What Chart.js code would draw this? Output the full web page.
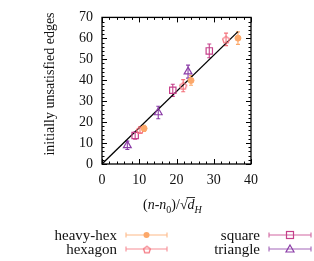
<!DOCTYPE html>
<html>
<head>
<meta charset="utf-8">
<script src="https://cdn.jsdelivr.net/npm/chart.js@4/dist/chart.umd.min.js"></script>
<style>
  html, body { margin: 0; padding: 0; background: #fff; }
  #wrap { width: 314px; height: 261px; position: relative; }
</style>
</head>
<body>
<div id="wrap"><canvas id="grafico"></canvas></div>
<script>
// data
const heavyHexX = [11.3, 23.9, 36.5];
const heavyHexY = [17.0, 39.9, 60.1];
const heavyHexErr = [1.5, 2.3, 3.0];

const hexagonX = [10.2, 21.8, 33.3];
const hexagonY = [16.3, 37.4, 59.5];
const hexagonErr = [1.5, 2.9, 3.0];

const squareX = [8.9, 19.0, 28.8];
const squareY = [13.6, 35.2, 54.0];
const squareErr = [1.7, 2.9, 3.3];

const triangleX = [6.8, 15.1, 23.1];
const triangleY = [8.9, 24.6, 44.1];
const triangleErr = [2.0, 3.0, 3.1];

const fitX = [0, 36.5];
const fitY = [0, 63.2];

const xTicks = [0, 10, 20, 30, 40];
const yTicks = [0, 10, 20, 30, 40, 50, 60, 70];
const etiquetas = ['heavy-hex', 'hexagon', 'square', 'triangle'];

const colores = ['#fca86a', '#f4707a', '#c5408a', '#8c3ea8'];
const FUENTE = '"Liberation Serif", "DejaVu Serif", serif';

function puntos(xs, ys) {
  return xs.map((x, i) => ({ x: x, y: ys[i] }));
}

// pentagon marker for the hexagon series
function pentagono(color, r) {
  const c = document.createElement('canvas');
  const s = Math.ceil(r * 2 + 4);
  c.width = s; c.height = s;
  const g = c.getContext('2d');
  g.strokeStyle = color; g.lineWidth = 1.2;
  g.beginPath();
  for (let k = 0; k < 5; k++) {
    const a = -Math.PI / 2 + k * 2 * Math.PI / 5;
    const px = s / 2 + r * Math.cos(a), py = s / 2 + 0.5 + r * Math.sin(a);
    if (k === 0) g.moveTo(px, py); else g.lineTo(px, py);
  }
  g.closePath(); g.stroke();
  return c;
}

function marca(ctx, tipo, x, y, color) {
  ctx.save();
  ctx.strokeStyle = color; ctx.fillStyle = color; ctx.lineWidth = 1.2;
  if (tipo === 0) {
    ctx.beginPath(); ctx.arc(x, y, 3, 0, Math.PI * 2); ctx.fill();
  } else if (tipo === 1) {
    ctx.drawImage(pentagono(color, 3.6), x - 5.6, y - 5.6);
  } else if (tipo === 2) {
    ctx.strokeRect(x - 3.5, y - 3.5, 7, 7);
  } else {
    ctx.beginPath(); ctx.moveTo(x, y - 4); ctx.lineTo(x + 4, y + 3); ctx.lineTo(x - 4, y + 3); ctx.closePath(); ctx.stroke();
  }
  ctx.restore();
}

const errores = [heavyHexErr, hexagonErr, squareErr, triangleErr];

const barrasError = {
  id: 'barrasError',
  beforeDatasetsDraw(chart) {
    const ctx = chart.ctx, ys = chart.scales.y;
    errores.forEach((errs, i) => {
      const meta = chart.getDatasetMeta(i);
      const datos = chart.data.datasets[i].data;
      ctx.save();
      ctx.strokeStyle = colores[i]; ctx.lineWidth = 1.1;
      meta.data.forEach((p, j) => {
        const y1 = ys.getPixelForValue(datos[j].y - errs[j]);
        const y2 = ys.getPixelForValue(datos[j].y + errs[j]);
        ctx.beginPath();
        ctx.moveTo(p.x, y1); ctx.lineTo(p.x, y2);
        ctx.moveTo(p.x - 2, y1); ctx.lineTo(p.x + 2, y1);
        ctx.moveTo(p.x - 2, y2); ctx.lineTo(p.x + 2, y2);
        ctx.stroke();
      });
      ctx.restore();
    });
  }
};

const marco = {
  id: 'marco',
  afterDraw(chart) {
    const ctx = chart.ctx, a = chart.chartArea;
    const xs = chart.scales.x, ys = chart.scales.y;
    ctx.save();
    ctx.strokeStyle = '#000'; ctx.lineWidth = 1;
    ctx.beginPath();
    for (let v = 0; v <= 40; v += 2) {
      const px = Math.round(xs.getPixelForValue(v)) + 0.5;
      const len = v % 10 === 0 ? 5 : 2.5;
      ctx.moveTo(px, a.bottom); ctx.lineTo(px, a.bottom - len);
      ctx.moveTo(px, a.top); ctx.lineTo(px, a.top + len);
    }
    for (let v = 0; v <= 70; v += 2) {
      const py = Math.round(ys.getPixelForValue(v)) + 0.5;
      const len = v % 10 === 0 ? 5 : 2.5;
      ctx.moveTo(a.left, py); ctx.lineTo(a.left + len, py);
      ctx.moveTo(a.right, py); ctx.lineTo(a.right - len, py);
    }
    ctx.stroke();
    ctx.lineWidth = 1.3;
    ctx.strokeRect(a.left, a.top, a.right - a.left, a.bottom - a.top);

    // y title
    ctx.fillStyle = '#111';
    ctx.font = '14px ' + FUENTE;
    ctx.textAlign = 'center'; ctx.textBaseline = 'middle';
    ctx.save();
    ctx.translate(50, 84); ctx.rotate(-Math.PI / 2);
    ctx.fillText('initially unsatisfied edges', 0, 0);
    ctx.restore();

    // x title: (n-n0)/sqrt(d)_H
    ctx.textAlign = 'left'; ctx.textBaseline = 'alphabetic';
    const partes = [
      ['(', 'n'], ['n', 'i'], ['-', 'n'], ['n', 'i'], ['0', 's'], [')/', 'n'], ['\u221A', 'n'], ['d', 'i'], ['H', 'si']
    ];
    let x = 143; const base = 209;
    partes.forEach(([t, f]) => {
      let fuente = '14px ' + FUENTE, dy = 0;
      if (f === 'i') fuente = 'italic 14px ' + FUENTE;
      if (f === 's') { fuente = '10px ' + FUENTE; dy = 4; }
      if (f === 'si') { fuente = 'italic 10px ' + FUENTE; dy = 4; }
      ctx.font = fuente;
      const w = ctx.measureText(t).width;
      if (t === 'd') {
        ctx.beginPath(); ctx.lineWidth = 0.8;
        ctx.moveTo(x - 1, base - 11.5); ctx.lineTo(x + w + 0.5, base - 11.5); ctx.stroke();
      }
      ctx.fillText(t, x, base + dy);
      x += w;
    });

    // legend
    const filas = [
      { t: 0, tx: 117, x1: 126, x2: 167, y: 235 },
      { t: 1, tx: 117, x1: 126, x2: 167, y: 249 },
      { t: 2, tx: 260, x1: 269, x2: 311, y: 235 },
      { t: 3, tx: 260, x1: 269, x2: 311, y: 249 }
    ];
    filas.forEach(f => {
      ctx.font = '15px ' + FUENTE; ctx.fillStyle = '#111';
      ctx.textAlign = 'right'; ctx.textBaseline = 'middle';
      ctx.fillText(etiquetas[f.t], f.tx, f.y + 1);
      ctx.save();
      ctx.globalAlpha = 0.8;
      ctx.strokeStyle = colores[f.t]; ctx.lineWidth = 1.1;
      ctx.beginPath();
      ctx.moveTo(f.x1, f.y); ctx.lineTo(f.x2, f.y);
      ctx.moveTo(f.x1, f.y - 2.5); ctx.lineTo(f.x1, f.y + 2.5);
      ctx.moveTo(f.x2, f.y - 2.5); ctx.lineTo(f.x2, f.y + 2.5);
      ctx.stroke();
      ctx.restore();
      marca(ctx, f.t, (f.x1 + f.x2) / 2, f.y, colores[f.t]);
    });
    ctx.restore();
  }
};

const ctxGraf = document.getElementById('grafico').getContext('2d');
const configuracion = {
  type: 'scatter',
  data: {
    datasets: [
      { label: etiquetas[0], data: puntos(heavyHexX, heavyHexY), pointStyle: 'circle', pointRadius: 3,
        backgroundColor: colores[0], borderColor: colores[0], borderWidth: 1 },
      { label: etiquetas[1], data: puntos(hexagonX, hexagonY), pointStyle: pentagono(colores[1], 3.6),
        backgroundColor: 'transparent', borderColor: colores[1] },
      { label: etiquetas[2], data: puntos(squareX, squareY), pointStyle: 'rect', pointRadius: 4.5,
        backgroundColor: 'transparent', borderColor: colores[2], borderWidth: 1.2 },
      { label: etiquetas[3], data: puntos(triangleX, triangleY), pointStyle: 'triangle', pointRadius: 4.5,
        backgroundColor: 'transparent', borderColor: colores[3], borderWidth: 1.2 },
      { label: 'fit', data: puntos(fitX, fitY), showLine: true, pointRadius: 0,
        borderColor: '#000', borderWidth: 1.3 }
    ]
  },
  options: {
    responsive: true,
    maintainAspectRatio: false,
    animation: false,
    layout: { padding: { top: 15, right: 63, bottom: 75, left: 0 } },
    scales: {
      x: {
        type: 'linear', min: 0, max: 40,
        afterFit: s => { s.height = 22; },
        afterBuildTicks: s => { s.ticks = xTicks.map(v => ({ value: v })); },
        grid: { display: false, drawTicks: false },
        border: { display: false },
        ticks: { padding: 8, color: '#111', font: { family: FUENTE, size: 14 } }
      },
      y: {
        type: 'linear', min: 0, max: 70,
        afterFit: s => { s.width = 102; },
        afterBuildTicks: s => { s.ticks = yTicks.map(v => ({ value: v })); },
        grid: { display: false, drawTicks: false },
        border: { display: false },
        ticks: { padding: 9, color: '#111', font: { family: FUENTE, size: 14 } }
      }
    },
    plugins: {
      legend: { display: false },
      tooltip: { enabled: false }
    }
  },
  plugins: [barrasError, marco]
};
const graficoP = new Chart(ctxGraf, configuracion);
</script>
</body>
</html>
